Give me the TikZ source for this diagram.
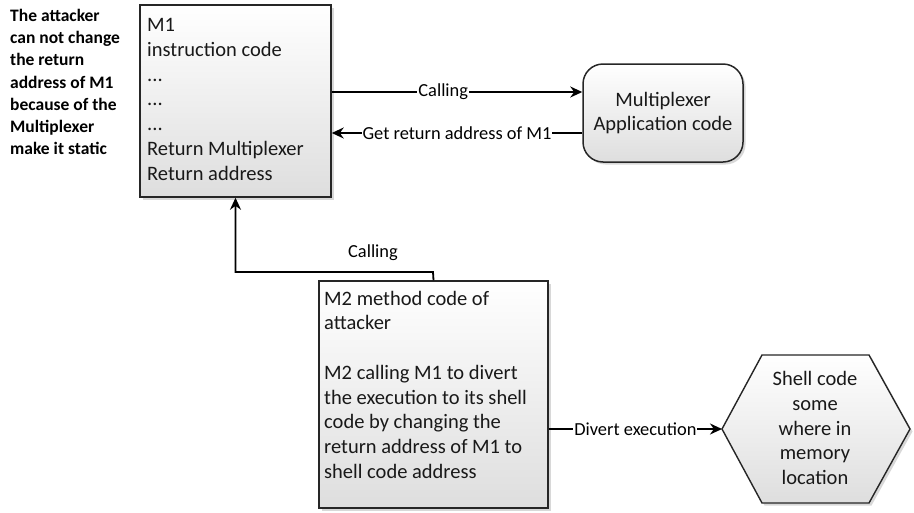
\documentclass[tikz,border=0pt]{standalone}
\usepackage{fontspec}
\setmainfont{Carlito}
\usetikzlibrary{arrows.meta,shadows}
\begin{document}
\begin{tikzpicture}[x=1pt,y=-1pt,
  boxfill/.style={draw=black!85, line width=1.5pt, top color=white, bottom color=black!13,
    drop shadow={shadow xshift=2.5pt,shadow yshift=-2.5pt,fill=black!30}},
  boxtext/.style={font=\fontsize{20.5}{24.75}\selectfont, align=left, inner sep=0pt, anchor=north west, text=black!90},
  ctext/.style={font=\fontsize{20.5}{24.75}\selectfont, align=center, inner sep=0pt, text=black!90},
  lbl/.style={font=\fontsize{18.4}{22}\selectfont, fill=white, inner sep=1pt, text=black},
  arr/.style={line width=1.8pt, draw=black, -{Stealth[length=12pt,width=11pt]}},
  ln/.style={line width=1.8pt, draw=black}]
\useasboundingbox (0,0) rectangle (914,512);

% left note
\node[font=\bfseries\fontsize{17.5}{22.2}\selectfont, align=left, inner sep=0pt, anchor=north west, text=black]
  (note) at (10,9) {The attacker\\can not change\\the return\\address of M1\\because of the\\Multiplexer\\make it static};

% M1 box
\node[boxfill, minimum width=191pt, minimum height=192pt, inner sep=0pt] (m1) at (235.5,101) {};
\node[boxtext] (m1t) at (147,18.3) {M1\\instruction code\\...\\...\\...\\Return Multiplexer\\Return address};

% Multiplexer box
\node[boxfill, rounded corners=20pt, minimum width=160pt, minimum height=98pt, inner sep=0pt] (mux) at (663,113) {};
\node[ctext] (muxt) at (663,113) {Multiplexer\\Application code};

% M2 box
\node[boxfill, minimum width=229pt, minimum height=227pt, inner sep=0pt] (m2) at (433.5,394.5) {};
\node[boxtext] (m2t) at (324,290.6) {M2 method code of\\attacker\\\\M2 calling M1 to divert\\the execution to its shell\\code by changing the\\return address of M1 to\\shell code address};

% Hexagon
\coordinate (hw) at (722,429);
\coordinate (hne) at (869,355);
\coordinate (hnw) at (762,355);
\coordinate (he) at (910,429);
\coordinate (hse) at (869,503);
\coordinate (hsw) at (762,503);
\draw[boxfill, line width=1.4pt] (hw) -- (hnw) -- (hne) -- (he) -- (hse) -- (hsw) -- cycle;
\node[ctext] (hex) at (815,428) {Shell code\\some\\where in\\memory\\location};

% connectors
\coordinate (c1s) at (m1.east |- 0,92);
\coordinate (c1e) at (mux.west |- 0,92);
\draw[arr] (c1s) -- node[lbl, pos=0.445] {Calling} (c1e);
\coordinate (c2s) at (mux.west |- 0,133);
\coordinate (c2e) at (m1.east |- 0,133);
\draw[arr] (c2s) -- node[lbl] {Get return address of M1} (c2e);

\coordinate (bend) at (433,272);
\draw[arr] (m2.north) -- (bend) -| (m1.south);
\node[font=\fontsize{18.4}{22}\selectfont, text=black, inner sep=0pt] (call2) at (373,253) {Calling};

\coordinate (c3s) at (m2.east |- hw);
\draw[arr] (c3s) -- node[lbl] {Divert execution} (hw);
\end{tikzpicture}
\end{document}
